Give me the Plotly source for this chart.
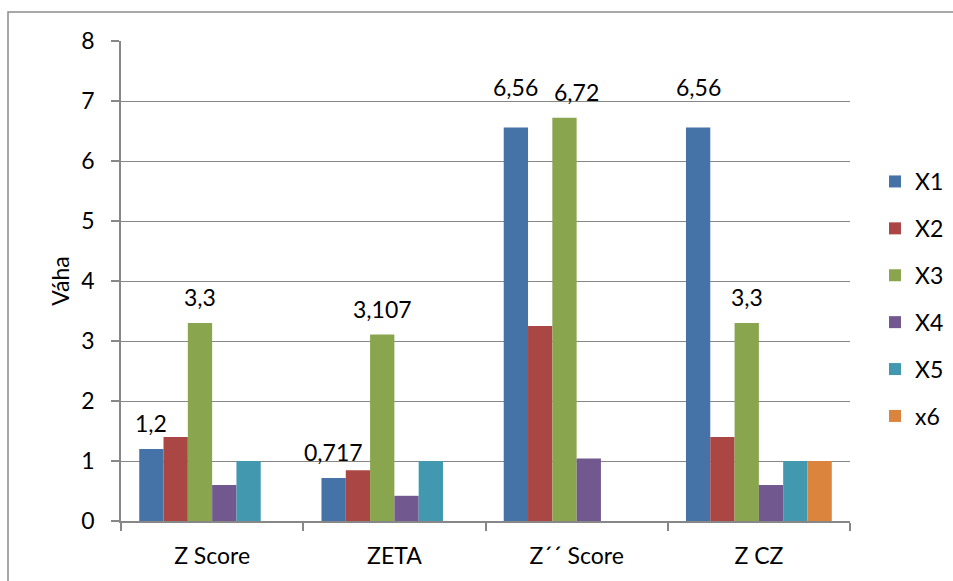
import plotly.graph_objects as go

categories = ["Z Score", "ZETA", "Z´´ Score", "Z CZ"]
series_names = ["X1", "X2", "X3", "X4", "X5", "x6"]
x1 = [1.2, 0.717, 6.56, 6.56]
x2 = [1.4, 0.847, 3.25, 1.4]
x3 = [3.3, 3.107, 6.72, 3.3]
x4 = [0.6, 0.42, 1.04, 0.6]
x5 = [1.0, 1.0, None, 1.0]
x6 = [None, None, None, 1.0]
series_values = [x1, x2, x3, x4, x5, x6]
colors = ["#4572A7", "#AA4643", "#89A54E", "#71588F", "#4198AF", "#DB843D"]

y_ticks = [0, 1, 2, 3, 4, 5, 6, 7, 8]

FONT = "Lato"
FS = 23
GRID = "#878787"

fig = go.Figure()
for i, (name, vals) in enumerate(zip(series_names, series_values)):
    fig.add_trace(go.Bar(
        x=categories, y=vals, name=name,
        marker=dict(color=colors[i], line=dict(width=0)),
        legendgroup=name,
    ))

# data labels for X1 and X3 (comma decimal)
bar_px = 729 / 4 * 0.8 / 6
label_series = [0, 2]
yshifts = {0: [26, 26, 40, 40], 2: [26, 26, 26, 26]}
xextra = {0: [0, 0, 0, 0], 2: [0, 0, 12, 0]}
annotations = []
for si in label_series:
    for ci, cat in enumerate(categories):
        v = series_values[si][ci]
        if v is None:
            continue
        annotations.append(dict(
            x=cat, y=v, xref="x", yref="y",
            text=str(v).replace(".", ","),
            showarrow=False,
            xshift=(si - 2.5) * bar_px + xextra[si][ci],
            yshift=yshifts[si][ci],
            font=dict(family=FONT, size=FS, color="#000000"),
        ))

fig.update_layout(
    width=953, height=581,
    margin=dict(l=121, r=103, t=41, b=60, autoexpand=False),
    paper_bgcolor="white", plot_bgcolor="white",
    barmode="group", bargap=0.2, bargroupgap=0,
    font=dict(family=FONT, size=FS, color="#000000"),
    showlegend=True,
    legend=dict(
        xref="container", yref="container",
        x=875 / 953, y=1 - 160 / 581, xanchor="left", yanchor="top",
        font=dict(family=FONT, size=FS, color="#000000"),
        tracegroupgap=14, bgcolor="rgba(0,0,0,0)",
        itemwidth=30,
    ),
    annotations=annotations,
    shapes=[dict(
        type="rect", xref="paper", yref="paper",
        x0=(8 - 121) / 729, x1=(980 - 121) / 729,
        y0=(521 - 12) / 480, y1=(521 - 600) / 480,
        line=dict(color="#8c8c8c", width=1.5), fillcolor="rgba(0,0,0,0)",
        layer="below",
    )],
)

fig.update_xaxes(
    type="category",
    showline=True, linecolor=GRID, linewidth=1.5,
    ticks="outside", ticklen=8, tickcolor=GRID, tickwidth=1.5,
    tickson="boundaries",
    showgrid=False,
    tickfont=dict(family=FONT, size=FS),
    ticklabelstandoff=14,
)
fig.update_yaxes(
    range=[0, 8], tickvals=y_ticks,
    showline=True, linecolor=GRID, linewidth=1.5,
    ticks="outside", ticklen=8, tickcolor=GRID, tickwidth=1.5,
    showgrid=True, gridcolor=GRID, gridwidth=1.2,
    zeroline=False,
    tickfont=dict(family=FONT, size=FS),
    ticklabelstandoff=12,
    title=dict(text="Váha", font=dict(family=FONT, size=FS), standoff=5),
)

fig.write_html("out.html")
